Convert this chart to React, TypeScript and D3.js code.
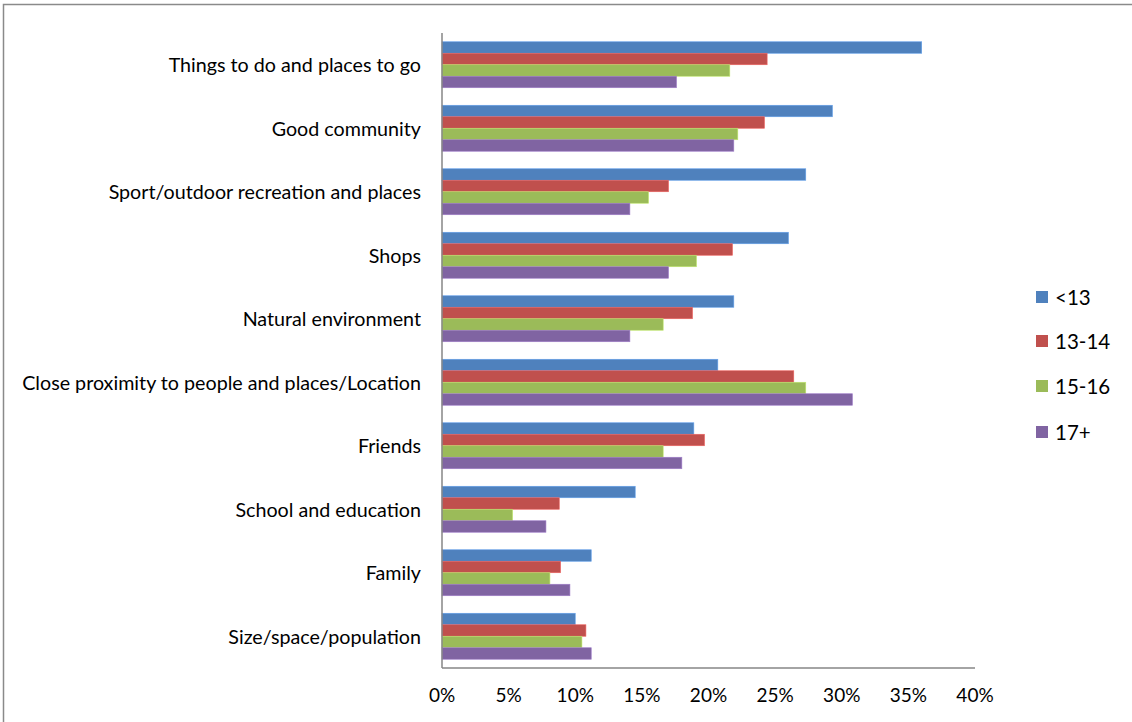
import React from "react";
import * as d3 from "d3";

const categories = [
  "Things to do and places to go",
  "Good community",
  "Sport/outdoor recreation and places",
  "Shops",
  "Natural environment",
  "Close proximity to people and places/Location",
  "Friends",
  "School and education",
  "Family",
  "Size/space/population",
];

const seriesNames = ["<13", "13-14", "15-16", "17+"];
const seriesColors = ["#4F81BD", "#C0504D", "#9BBB59", "#8064A2"];

const under13 = [36.0, 29.3, 27.3, 26.0, 21.9, 20.7, 18.9, 14.5, 11.2, 10.0];
const age13to14 = [24.4, 24.2, 17.0, 21.8, 18.8, 26.4, 19.7, 8.8, 8.9, 10.8];
const age15to16 = [21.6, 22.2, 15.5, 19.1, 16.6, 27.3, 16.6, 5.3, 8.1, 10.5];
const age17plus = [17.6, 21.9, 14.1, 17.0, 14.1, 30.8, 18.0, 7.8, 9.6, 11.2];

const seriesValues = [under13, age13to14, age15to16, age17plus];
const xTicks = [0, 5, 10, 15, 20, 25, 30, 35, 40];

const W = 1132;
const H = 722;
const FONT = "Lato, 'Open Sans', sans-serif";

export default function App() {
  const left = 442;
  const right = 975;
  const top = 33;
  const bottom = 668;

  const x = d3.scaleLinear().domain([0, 40]).range([left, right]);
  const y = d3.scaleBand<string>().domain(categories).range([top, bottom]).padding(0);
  const bw = y.bandwidth();
  const groupW = bw * 0.724;
  const inner = d3
    .scaleBand<string>()
    .domain(seriesNames)
    .range([(bw - groupW) / 2, (bw + groupW) / 2])
    .padding(0);

  return (
    <svg
      width={W}
      height={H}
      style={{ position: "absolute", left: 0, top: 0, background: "#fff" }}
    >
      <rect x={3.5} y={4.5} width={W + 20} height={H + 20} fill="#fff" stroke="#8a8a8a" strokeWidth={1.5} />

      {seriesValues.map((vals, si) =>
        vals.map((v, ci) => (
          <rect
            key={`${si}-${ci}`}
            x={x(0)}
            y={(y(categories[ci]) as number) + (inner(seriesNames[si]) as number)}
            width={x(v) - x(0)}
            height={inner.bandwidth()}
            fill={seriesColors[si]}
            stroke={d3.color(seriesColors[si])!.brighter(0.6).formatHex()}
            strokeWidth={0.6}
          />
        ))
      )}

      <line x1={x(0)} x2={x(0)} y1={top} y2={bottom} stroke="#868686" strokeWidth={1.5} />
      <line x1={x(0)} x2={right} y1={bottom} y2={bottom} stroke="#868686" strokeWidth={1.5} />

      {categories.map((c) => (
        <text
          key={c}
          x={421}
          y={(y(c) as number) + bw / 2}
          textAnchor="end"
          dominantBaseline="central"
          fontFamily={FONT}
          fontSize={19.7}
          fill="#000"
        >
          {c}
        </text>
      ))}

      {xTicks.map((t) => (
        <text
          key={t}
          x={x(t)}
          y={694}
          textAnchor="middle"
          dominantBaseline="central"
          fontFamily={FONT}
          fontSize={19}
          fill="#000"
        >
          {`${t}%`}
        </text>
      ))}

      {seriesNames.map((s, i) => {
        const cy = [297, 341, 386, 432][i];
        return (
          <g key={s}>
            <rect x={1036} y={cy - 6} width={12} height={12} fill={seriesColors[i]} />
            <text x={1055} y={cy} dominantBaseline="central" fontFamily={FONT} fontSize={20.5} fill="#000">
              {s}
            </text>
          </g>
        );
      })}
    </svg>
  );
}
